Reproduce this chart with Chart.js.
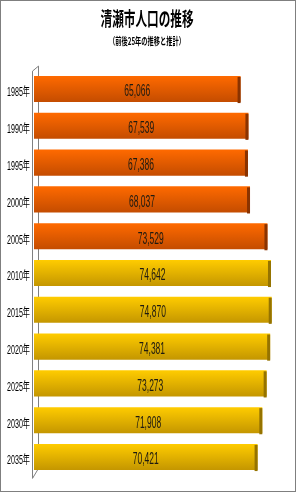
<!DOCTYPE html>
<html>
<head>
<meta charset="utf-8">
<script src="https://cdn.jsdelivr.net/npm/chart.js@4"></script>
<style>
  body { margin: 0; background: #fff; }
  #frame { width: 296px; height: 492px; border: 1px solid #7f7f7f; box-sizing: border-box; }
  canvas { display: block; }
</style>
</head>
<body>
<div id="frame"><canvas id="grafico" width="294" height="490"></canvas></div>
<script>
// 清瀬市の人口（実績と推計）
const titulo = '清瀬市人口の推移';
const subtitulo = '（前後25年の推移と推計）';
const anos = ['1985年', '1990年', '1995年', '2000年', '2005年', '2010年', '2015年', '2020年', '2025年', '2030年', '2035年'];
const populacao = [65066, 67539, 67386, 68037, 73529, 74642, 74870, 74381, 73273, 71908, 70421];
const ultimoReal = '2005年'; // a partir daqui são estimativas
const escalaMax = 80000;

const corLaranja = ['#ff6a00', '#c44c00', '#8a3300'];
const corAmarela = ['#ffcc00', '#c49600', '#957300'];

function cores(index) {
    return index <= anos.indexOf(ultimoReal) ? corLaranja : corAmarela;
}

// gradiente vertical em cada barra
function fundoBarra(context) {
    const chart = context.chart;
    const c = cores(context.dataIndex);
    if (!chart.chartArea) return c[0];
    const y = chart.scales.y.getPixelForValue(context.dataIndex);
    const passo = chart.scales.y.getPixelForValue(1) - chart.scales.y.getPixelForValue(0);
    const h = Math.abs(passo) * 0.71 / 2;
    const g = chart.ctx.createLinearGradient(0, y - h, 0, y + h);
    g.addColorStop(0, c[0]);
    g.addColorStop(1, c[1]);
    return g;
}

// texto estreito (fonte condensada)
function textoEstreito(ctx, t, font, x, y, largura, align) {
    ctx.save();
    ctx.font = font;
    const w = ctx.measureText(t).width;
    ctx.translate(x, y);
    ctx.scale(largura / w, 1);
    ctx.textAlign = align;
    ctx.textBaseline = 'middle';
    ctx.fillText(t, 0, 0);
    ctx.restore();
}

// titulo condensado
const pluginTitulo = {
    id: 'tituloCondensado',
    afterDraw(chart) {
        const ctx = chart.ctx;
        const cx = chart.width / 2 - 1;
        ctx.fillStyle = '#000';
        textoEstreito(ctx, titulo, 'bold 19px "Noto Sans CJK JP"', cx, 18, 93, 'center');
        textoEstreito(ctx, subtitulo, 'bold 10px "Noto Sans CJK JP"', cx, 40, 76, 'center');
    }
};

// rotulos do eixo y, estreitos
const pluginEixo = {
    id: 'eixoEstreito',
    afterDraw(chart) {
        const ctx = chart.ctx;
        const escala = chart.scales.y;
        escala.ticks.forEach((tick, i) => {
            const y = escala.getPixelForTick(i);
            ctx.fillStyle = '#000';
            textoEstreito(ctx, escala.getLabelForValue(tick.value), '12px "Liberation Sans", "Noto Sans CJK JP"',
                escala.right - 4, y + 4, 23, 'right');
        });
    }
};

// parede 3D do eixo
const pluginParede = {
    id: 'parede',
    beforeDatasetsDraw(chart) {
        const ctx = chart.ctx;
        const a = chart.chartArea;
        const fx = a.left - 1.5, bx = a.left + 4.5;
        ctx.save();
        ctx.strokeStyle = '#808080';
        ctx.lineWidth = 1;
        ctx.beginPath();
        ctx.moveTo(fx, a.bottom + 3);
        ctx.lineTo(fx, a.top + 0.5);
        ctx.lineTo(bx, a.top - 4.5);
        ctx.lineTo(bx, a.bottom - 7);
        ctx.lineTo(fx, a.bottom + 3);
        ctx.stroke();
        ctx.restore();
    }
};

// tampa escura no fim da barra e rotulos de valor
const pluginRotulos = {
    id: 'rotulos',
    afterDatasetsDraw(chart) {
        const ctx = chart.ctx;
        const meta = chart.getDatasetMeta(0);
        meta.data.forEach((bar, i) => {
            const h = bar.height;
            ctx.save();
            ctx.fillStyle = cores(i)[2];
            ctx.fillRect(bar.x - 3, bar.y - h / 2 + 1, 3, h);
            ctx.restore();

            const txt = populacao[i].toLocaleString('en-US');
            ctx.fillStyle = '#1e1a10';
            textoEstreito(ctx, txt, '16px "Liberation Sans"', (bar.base + bar.x) / 2, bar.y + 3, 26, 'center');
        });
    }
};

new Chart(document.getElementById('grafico'), {
    type: 'bar',
    data: {
        labels: anos,
        datasets: [{
            label: '人口',
            data: populacao,
            backgroundColor: fundoBarra,
            borderWidth: 0,
            categoryPercentage: 1,
            barPercentage: 0.71
        }]
    },
    options: {
        indexAxis: 'y',
        responsive: false,
        animation: false,
        devicePixelRatio: 1,
        layout: { padding: { top: 69.6, bottom: 15.6, right: 7, left: 0 } },
        plugins: {
            legend: { display: false },
            tooltip: { enabled: false }
        },
        scales: {
            x: {
                display: false,
                min: 0,
                max: escalaMax
            },
            y: {
                afterFit(scale) { scale.width = 33; },
                grid: { display: false, drawTicks: false },
                border: { display: false },
                ticks: { display: false }
            }
        }
    },
    plugins: [pluginTitulo, pluginEixo, pluginParede, pluginRotulos]
});
</script>
</body>
</html>
